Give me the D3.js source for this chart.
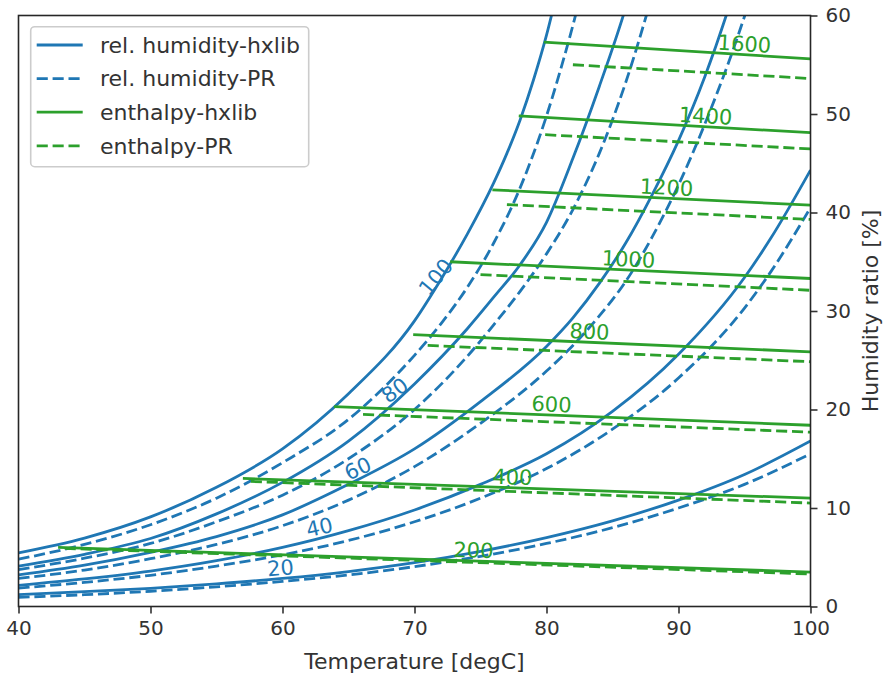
<!DOCTYPE html>
<html>
<head>
<script src="https://d3js.org/d3.v7.min.js" charset="utf-8"></script>
<style>
  body { margin: 0; background: #fff; }
  text { font-family: "DejaVu Sans", sans-serif; }
</style>
</head>
<body>
<svg id="chart" width="883" height="677"></svg>
<script>
// relative humidity curves, [temperature degC, humidity ratio %]
var hx20  = [[40,1.2],[45,1.5],[50,1.85],[55,2.3],[60,2.85],[65,3.55],[70,4.45],[75,5.6],[80,7.0],[85,8.7],[90,10.8],[95,13.4],[100,16.8]];
var pr20  = [[40,0.93],[45,1.2],[50,1.55],[55,2.0],[60,2.55],[65,3.2],[70,4.05],[75,5.1],[80,6.4],[85,8.0],[90,10.0],[95,12.4],[100,15.5]];
var hx40  = [[40,2.15],[45,2.8],[50,3.6],[55,4.65],[60,6.0],[65,7.7],[70,9.8],[75,12.4],[80,15.5],[85,19.8],[90,25.6],[95,33.4],[97,37.4],[100,44.3]];
var pr40  = [[40,1.87],[45,2.45],[50,3.17],[55,4.1],[60,5.25],[65,6.7],[70,8.6],[75,11.0],[80,14.0],[85,18.0],[90,23.2],[95,30.3],[97,34.0],[100,40.5]];
var hx60  = [[40,3.2],[45,4.2],[50,5.5],[55,7.1],[60,9.3],[65,12.4],[70,16.0],[75,20.8],[80,26.4],[82,29.3],[84,32.8],[86,36.9],[88,41.8],[90,47.3],[92,53.8],[94,61.6],[95,66.0]];
var pr60  = [[40,2.85],[45,3.7],[50,4.85],[55,6.3],[60,8.2],[65,10.8],[70,14.2],[75,18.6],[80,23.9],[82,26.5],[84,29.5],[86,33.0],[88,37.5],[90,42.8],[92,49.0],[94,56.0],[96,64.0]];
var hx80  = [[40,4.1],[45,5.3],[50,6.9],[55,9.4],[60,12.6],[65,16.8],[70,22.6],[74,28.2],[76,31.4],[78,34.7],[80,39.0],[82,45.5],[84,52.8],[86,60.8],[87,65.5]];
var pr80  = [[40,3.75],[45,4.9],[50,6.4],[55,8.6],[60,11.3],[65,15.0],[70,20.0],[74,25.4],[76,28.6],[78,32.0],[80,35.8],[82,40.3],[84,46.0],[86,53.2],[88,62.0]];
var hx100 = [[40,5.45],[45,6.95],[50,9.1],[55,12.1],[60,16.0],[65,21.6],[70,29.0],[72,33.2],[74,37.8],[76,43.0],[77,46.0],[78,49.4],[79,53.4],[80,58.0],[81,63.5]];
var pr100 = [[40,4.8],[45,6.3],[50,8.3],[55,11.0],[60,14.6],[65,19.0],[70,25.5],[72,28.7],[74,32.4],[76,36.9],[78,42.5],[80,49.8],[81,54.2],[82,59.0],[83,64.3]];

var rhLevels = [20, 40, 60, 80, 100];
var rhLabelTemps = [59.85, 62.8, 65.7, 68.5, 71.6];

// enthalpy lines [kJ/kg]: start on saturation curve, end at 100 degC
var enthLevels = [200, 400, 600, 800, 1000, 1200, 1400, 1600];
var enthHxStartT = [43.0, 57.0, 63.9, 69.9, 72.7, 75.9, 77.9, 79.8];
var enthHxStartV = [6.0, 13.0, 20.3, 27.6, 35.0, 42.3, 49.8, 57.3];
var enthHxEndV   = [3.5, 11.0, 18.4, 25.85, 33.3, 40.75, 48.1, 55.6];
var enthPrStartT = [43.5, 57.6, 66.1, 71.0, 75.0, 77.0, 79.9, 82.0];
var enthPrStartV = [5.9, 12.7, 19.5, 26.5, 33.7, 40.8, 47.9, 55.0];
var enthPrEndV   = [3.3, 10.5, 17.7, 24.85, 32.1, 39.3, 46.45, 53.6];
var enthLabelTemps = [74.47, 77.42, 80.38, 83.26, 86.21, 89.09, 92.05, 95.0];

var xTicks = [40, 50, 60, 70, 80, 90, 100];
var yTicks = [0, 10, 20, 30, 40, 50, 60];
var legendLabels = ['rel. humidity-hxlib', 'rel. humidity-PR', 'enthalpy-hxlib', 'enthalpy-PR'];

var blue = '#1f77b4', green = '#2ca02c', ink = '#333333';

var svg = d3.select('#chart');
var plotL = 18.5, plotR = 810.5, plotT = 15.5, plotB = 606.5;

var x = d3.scaleLinear().domain([40, 100]).range([plotL, plotR]);
var y = d3.scaleLinear().domain([0, 60]).range([plotB, plotT]);

svg.append('clipPath').attr('id', 'clip')
    .append('rect').attr('x', plotL).attr('y', plotT)
    .attr('width', plotR - plotL).attr('height', plotB - plotT);

var plot = svg.append('g').attr('clip-path', 'url(#clip)');

var line = d3.line()
    .x(function(d) { return x(d[0]); })
    .y(function(d) { return y(d[1]); })
    .curve(d3.curveMonotoneX);

var dash = '11.1,4.8';

var hxCurves = [hx20, hx40, hx60, hx80, hx100];
var prCurves = [pr20, pr40, pr60, pr80, pr100];

hxCurves.forEach(function(c) {
    plot.append('path').attr('d', line(c))
        .attr('fill', 'none').attr('stroke', blue).attr('stroke-width', 2.8);
});
prCurves.forEach(function(c) {
    plot.append('path').attr('d', line(c))
        .attr('fill', 'none').attr('stroke', blue).attr('stroke-width', 2.8)
        .attr('stroke-dasharray', dash);
});

enthLevels.forEach(function(h, i) {
    plot.append('path')
        .attr('d', line([[enthHxStartT[i], enthHxStartV[i]], [100, enthHxEndV[i]]]))
        .attr('fill', 'none').attr('stroke', green).attr('stroke-width', 2.8);
});
enthLevels.forEach(function(h, i) {
    plot.append('path')
        .attr('d', line([[enthPrStartT[i], enthPrStartV[i]], [100, enthPrEndV[i]]]))
        .attr('fill', 'none').attr('stroke', green).attr('stroke-width', 2.8)
        .attr('stroke-dasharray', dash);
});

// value of a polyline at temperature t
function valueAt(c, t) {
    for (var k = 0; k < c.length - 1; k++) {
        if (t >= c[k][0] && t <= c[k+1][0]) {
            var f = (t - c[k][0]) / (c[k+1][0] - c[k][0]);
            return c[k][1] + f * (c[k+1][1] - c[k][1]);
        }
    }
    return c[c.length - 1][1];
}

function placeLabel(c, t, txt, color, tilt) {
    var px = x(t), py = y(valueAt(c, t));
    var ang = Math.atan2(y(valueAt(c, t + 0.4)) - y(valueAt(c, t - 0.4)), x(t + 0.4) - x(t - 0.4)) * 180 / Math.PI;
    svg.append('text')
        .attr('transform', 'translate(' + px + ',' + (py - 11) + ') rotate(' + (ang * tilt) + ')')
        .attr('text-anchor', 'middle').attr('dy', '0.36em')
        .attr('font-size', 21).attr('fill', color)
        .text(txt);
}

rhLevels.forEach(function(lv, i) {
    placeLabel(hxCurves[i], rhLabelTemps[i], lv, blue, 0.88);
});
enthLevels.forEach(function(h, i) {
    var seg = [[enthHxStartT[i], enthHxStartV[i]], [100, enthHxEndV[i]]];
    placeLabel(seg, enthLabelTemps[i], h, green, 1);
});

// axes
var xAxis = svg.append('g').attr('transform', 'translate(0,' + plotB + ')')
    .call(d3.axisBottom(x).tickValues(xTicks).tickSize(7).tickPadding(7).tickFormat(d3.format('d')));
var yAxis = svg.append('g').attr('transform', 'translate(' + plotR + ',0)')
    .call(d3.axisRight(y).tickValues(yTicks).tickSize(7).tickPadding(8).tickFormat(d3.format('d')));
[xAxis, yAxis].forEach(function(a) {
    a.select('.domain').remove();
    a.selectAll('line').attr('stroke', ink).attr('stroke-width', 1.6);
    a.selectAll('text').attr('font-size', 20).attr('fill', ink)
        .attr('font-family', '"DejaVu Sans", sans-serif');
});

svg.append('rect').attr('x', plotL).attr('y', plotT)
    .attr('width', plotR - plotL).attr('height', plotB - plotT)
    .attr('fill', 'none').attr('stroke', '#262626').attr('stroke-width', 1.6);

svg.append('text').attr('x', (plotL + plotR) / 2).attr('y', 669)
    .attr('text-anchor', 'middle').attr('font-size', 22).attr('fill', ink)
    .text('Temperature [degC]');
svg.append('text').attr('transform', 'translate(878,' + ((plotT + plotB) / 2) + ') rotate(-90)')
    .attr('text-anchor', 'middle').attr('font-size', 22).attr('fill', ink)
    .text('Humidity ratio [%]');

// legend
var lg = svg.append('g');
lg.append('rect').attr('x', 30.7).attr('y', 26.7).attr('width', 278).attr('height', 140)
    .attr('rx', 4).attr('fill', '#fff').attr('fill-opacity', 0.8)
    .attr('stroke', '#cccccc').attr('stroke-width', 1.6);
var legendColors = [blue, blue, green, green];
var legendDash = [null, dash, null, dash];
legendLabels.forEach(function(lab, i) {
    var cy = 45 + i * 33.6;
    lg.append('line').attr('x1', 36.7).attr('x2', 82.7).attr('y1', cy).attr('y2', cy)
        .attr('stroke', legendColors[i]).attr('stroke-width', 2.8)
        .attr('stroke-dasharray', legendDash[i]);
    lg.append('text').attr('x', 100).attr('y', cy).attr('dy', '0.35em')
        .attr('font-size', 22).attr('fill', ink).text(lab);
});
</script>
</body>
</html>
